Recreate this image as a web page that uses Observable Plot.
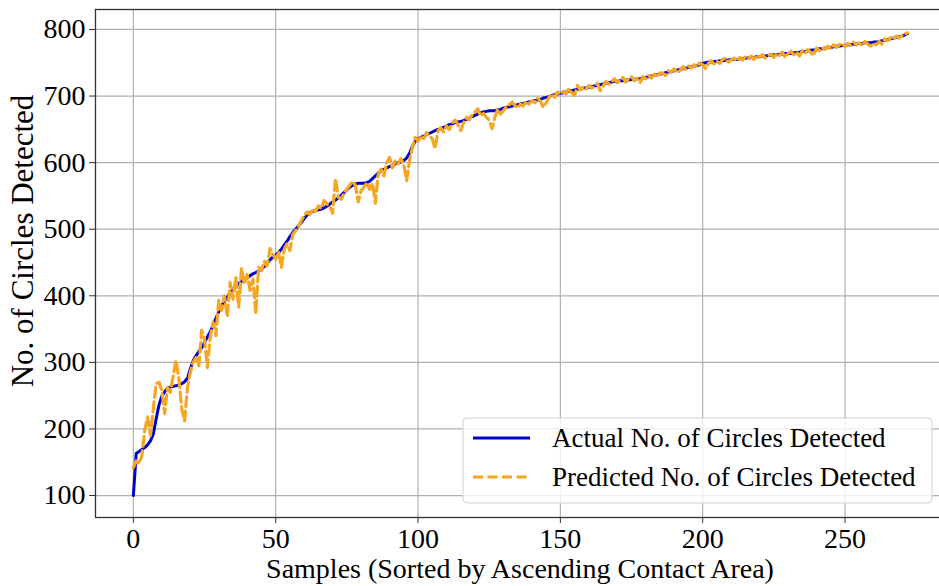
<!DOCTYPE html>
<html><head><meta charset="utf-8">
<script src="https://cdn.jsdelivr.net/npm/d3@7"></script>
<script src="https://cdn.jsdelivr.net/npm/@observablehq/plot@0.6"></script>
<style>html,body{margin:0;padding:0;background:#fff;overflow:hidden}</style>
</head><body><div id="chart"></div>
<script>
const actual = [
100,163,166,169,172,176,182,192,215,236,
249,256,261,263,264,265,266,268,271,276,
290,302,310,316,322,330,338,346,356,366,
376,385,392,398,404,410,414,418,421,424,
427,430,433,435,437,440,444,449,454,458,
461,465,470,476,482,489,495,500,505,510,
516,521,525,527,528,529,530,532,535,538,
541,544,547,551,555,559,563,566,568,569,
569,569,570,572,576,580,584,587,590,592,
594,596,598,600,601,603,607,614,624,632,
636,638,640,642,644,646,648,650,651,653,
655,657,658,660,661,662,663,665,667,669,
671,673,675,676,677,678,678,678,679,680,
682,683,684,685,686,687,688,689,690,691,
692,693,694,695,697,698,699,701,702,703,
704,705,706,707,708,709,710,711,712,712,
713,714,715,716,717,718,719,720,721,722,
722,723,723,724,724,725,725,726,726,727,
728,729,730,731,732,733,734,735,736,737,
738,739,740,741,742,743,744,745,746,747,
749,750,751,751,752,752,753,753,754,754,
755,755,755,756,756,757,757,758,758,759,
759,760,760,761,761,762,762,763,763,764,
764,764,765,765,766,767,767,768,769,769,
770,771,771,772,773,773,774,775,775,776,
776,777,777,778,778,779,779,780,780,780,
781,781,782,783,784,785,786,787,788,789,
790,792,794];
const predicted = [
142,152,148,160,198,218,190,230,268,270,
258,223,262,255,280,303,275,230,212,262,
285,300,307,295,348,335,292,338,360,340,
393,378,400,368,420,395,428,383,441,418,
432,408,425,373,443,438,452,445,471,462,
455,466,443,470,478,468,492,498,503,513,
520,526,522,530,527,535,531,543,538,534,
524,576,548,545,554,560,566,572,566,541,
558,563,570,560,569,539,582,590,580,600,
608,592,603,598,606,597,573,603,622,638,
632,640,636,645,640,636,621,648,652,646,
655,650,659,664,657,648,660,668,664,672,
676,681,670,674,668,664,651,668,680,673,
678,684,687,691,686,682,688,685,692,688,
693,690,697,692,683,690,698,703,698,706,
703,707,703,711,705,701,716,709,713,710,
716,712,714,719,708,715,722,718,721,726,
720,724,728,721,726,729,723,727,720,729,
726,731,727,733,729,735,734,731,738,736,
741,735,738,744,740,745,742,747,744,750,
747,741,749,753,748,752,749,755,757,751,
754,757,753,758,754,759,756,760,755,761,
758,762,757,760,763,758,764,761,766,758,
764,767,762,766,760,768,764,770,765,761,
772,768,773,770,775,771,777,773,777,779,
774,779,776,781,777,780,776,782,778,775,
779,777,782,778,786,783,788,785,790,787,
791,793,795];
const xTicks = [0, 50, 100, 150, 200, 250];
const yTicks = [100, 200, 300, 400, 500, 600, 700, 800];
const xLabel = "Samples (Sorted by Ascending Contact Area)";
const yLabel = "No. of Circles Detected";
const seriesNames = ["Actual No. of Circles Detected", "Predicted No. of Circles Detected"];

const data = actual.map((v, i) => ({i, actual: v, predicted: predicted[i]}));
const BLUE = "#0000cd", ORANGE = "#f5a623";
const FONT = "Liberation Serif, Times New Roman, serif";

const chart = Plot.plot({
  width: 939, height: 586,
  marginLeft: 95, marginRight: -8, marginTop: 9, marginBottom: 69,
  style: {fontFamily: FONT, fontSize: "28px", color: "#000", background: "#fff", overflow: "visible"},
  x: {domain: [-13.3, 286]},
  y: {domain: [67, 830]},
  marks: [
    Plot.gridX(xTicks, {stroke: "#b0b0b0", strokeOpacity: 1, strokeWidth: 1.2}),
    Plot.gridY(yTicks, {stroke: "#b0b0b0", strokeOpacity: 1, strokeWidth: 1.2}),
    Plot.lineY(data, {x: "i", y: "actual", stroke: BLUE, strokeWidth: 3}),
    Plot.lineY(data, {x: "i", y: "predicted", stroke: ORANGE, strokeWidth: 3.2, strokeDasharray: "10,4.5"}),
    Plot.frame({stroke: "#333", strokeWidth: 1.3}),
    Plot.axisX(xTicks, {tickSize: 6, tickPadding: 5, label: null, fontSize: 28, stroke: "#333"}),
    Plot.axisY(yTicks, {tickSize: 6, tickPadding: 4, label: null, fontSize: 28, stroke: "#333"})
  ]
});
document.getElementById("chart").appendChild(chart);

const svg = d3.select(chart);
svg.append("text").attr("x", 520).attr("y", 578).attr("text-anchor", "middle")
  .attr("font-family", FONT).attr("font-size", 28).attr("fill", "#000").text(xLabel);
svg.append("text").attr("transform", "translate(33,241) rotate(-90)").attr("text-anchor", "middle")
  .attr("font-family", FONT).attr("font-size", 31).attr("fill", "#000").text(yLabel);

const lg = svg.append("g");
lg.append("rect").attr("x", 463).attr("y", 418).attr("width", 469).attr("height", 85).attr("rx", 4)
  .attr("fill", "#fff").attr("fill-opacity", 0.8).attr("stroke", "#d0d0d0").attr("stroke-width", 1);
const rows = [{y: 438, c: BLUE, dash: null, w: 3}, {y: 477, c: ORANGE, dash: "10,4.5", w: 3.2}];
rows.forEach((r, k) => {
  const ln = lg.append("line").attr("x1", 473).attr("x2", 530).attr("y1", r.y).attr("y2", r.y)
    .attr("stroke", r.c).attr("stroke-width", r.w);
  if (r.dash) ln.attr("stroke-dasharray", r.dash);
  lg.append("text").attr("x", 552).attr("y", r.y + 9).attr("text-anchor", "start")
    .attr("font-family", FONT).attr("font-size", 27).attr("fill", "#000").text(seriesNames[k]);
});
</script></body></html>
